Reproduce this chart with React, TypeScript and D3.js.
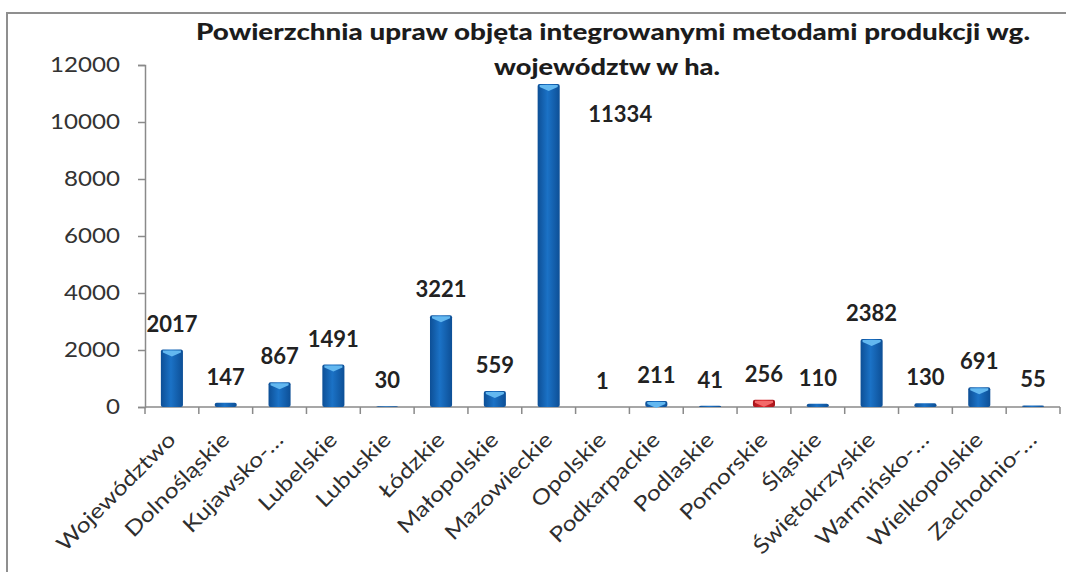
import React, { useEffect, useRef } from 'react';
import * as d3 from 'd3';

// województwa (etykiety jak na osi, ucięte przez Excela)
const categories = [
  'Województwo', 'Dolnośląskie', 'Kujawsko-…', 'Lubelskie', 'Lubuskie',
  'Łódzkie', 'Małopolskie', 'Mazowieckie', 'Opolskie', 'Podkarpackie',
  'Podlaskie', 'Pomorskie', 'Śląskie', 'Świętokrzyskie', 'Warmińsko-…',
  'Wielkopolskie', 'Zachodnio-…'
];
// powierzchnia w ha
const values = [2017, 147, 867, 1491, 30, 3221, 559, 11334, 1, 211, 41, 256, 110, 2382, 130, 691, 55];
const highlighted = ['Pomorskie'];
const yTicks = [0, 2000, 4000, 6000, 8000, 10000, 12000];
const titleLines = [
  'Powierzchnia upraw objęta integrowanymi metodami produkcji wg.',
  'województw w ha.'
];

const W = 1066, H = 572;
const FONT = 'Lato, "Open Sans", sans-serif';

export default function App() {
  const ref = useRef<SVGSVGElement>(null);

  useEffect(() => {
    const svg = d3.select(ref.current);
    svg.selectAll('*').remove();

    const data = categories.map((c, i) => ({ name: c, value: values[i] }));

    const x = d3.scaleBand<string>().domain(categories).range([145, 1060]).padding(0);
    const y = d3.scaleLinear().domain([0, 12000]).range([407, 65]);
    const step = x.step();
    const barW = step * 0.41;

    // gradienty słupków
    const defs = svg.append('defs');
    const grad = (id: string, edge: string, mid: string) => {
      const g = defs.append('linearGradient').attr('id', id).attr('x1', 0).attr('x2', 1).attr('y1', 0).attr('y2', 0);
      g.append('stop').attr('offset', '0%').attr('stop-color', edge);
      g.append('stop').attr('offset', '45%').attr('stop-color', mid);
      g.append('stop').attr('offset', '100%').attr('stop-color', edge);
    };
    grad('blueBar', '#0d4f96', '#1b72c6');
    grad('redBar', '#a3131a', '#e0262b');

    // ramka
    svg.append('rect')
      .attr('x', 7).attr('y', 13)
      .attr('width', W + 10).attr('height', H + 10)
      .attr('fill', '#fff')
      .attr('stroke', '#8f8f8f')
      .attr('stroke-width', 2);

    // tytuł
    svg.append('g').selectAll('text')
      .data(titleLines)
      .enter()
      .append('text')
      .attr('x', (d, i) => (i === 0 ? 613 : 607))
      .attr('y', (d, i) => 40 + i * 35)
      .attr('text-anchor', 'middle')
      .attr('textLength', (d, i) => (i === 0 ? 834 : 226))
      .attr('lengthAdjust', 'spacingAndGlyphs')
      .style('font-family', FONT)
      .style('font-weight', '900')
      .style('font-size', '23px')
      .style('fill', '#1c1c1c')
      .text(d => d);

    // oś Y
    const yAxis = svg.append('g')
      .attr('transform', 'translate(145,0)')
      .call(d3.axisLeft(y).tickValues(yTicks).tickSize(7).tickFormat(d3.format('d')));
    yAxis.select('.domain').attr('stroke', '#8a8a8a').attr('stroke-width', 1.5);
    yAxis.selectAll('.tick line').attr('stroke', '#8a8a8a').attr('stroke-width', 1.5);
    yAxis.selectAll('.tick text')
      .attr('x', -25 / 1.15)
      .attr('transform', 'scale(1.15,1)')
      .style('font-family', FONT)
      .style('font-size', '21px')
      .style('fill', '#333');

    // oś X z kreskami na granicach kategorii
    const xg = svg.append('g');
    xg.append('line')
      .attr('x1', 145).attr('x2', 1060)
      .attr('y1', 407).attr('y2', 407)
      .attr('stroke', '#8a8a8a').attr('stroke-width', 1.5);
    const bounds = categories.map(c => x(c) as number).concat([x.range()[1]]);
    xg.selectAll('.xtick')
      .data(bounds)
      .enter()
      .append('line')
      .attr('class', 'xtick')
      .attr('x1', d => d).attr('x2', d => d)
      .attr('y1', 407).attr('y2', 414)
      .attr('stroke', '#8a8a8a').attr('stroke-width', 1.5);

    xg.selectAll('.xlabel')
      .data(categories)
      .enter()
      .append('text')
      .attr('class', 'xlabel')
      .attr('transform', d => 'translate(' + ((x(d) as number) + step / 2 + 5) + ',441) rotate(-45) scale(1.18,1)')
      .attr('text-anchor', 'end')
      .style('font-family', FONT)
      .style('font-size', '21px')
      .style('fill', '#2e2e2e')
      .text(d => d);

    // słupki
    const bars = svg.append('g').selectAll('.bar')
      .data(data)
      .enter()
      .append('g')
      .attr('class', 'bar');

    bars.append('rect')
      .attr('x', d => (x(d.name) as number) + (step - barW) / 2)
      .attr('y', d => y(d.value))
      .attr('width', barW)
      .attr('height', d => y(0) - y(d.value))
      .attr('rx', 2)
      .attr('fill', d => (highlighted.includes(d.name) ? 'url(#redBar)' : 'url(#blueBar)'));

    // jasna "czapka" na górze słupka
    bars.filter(d => y(0) - y(d.value) > 6)
      .append('path')
      .attr('d', d => {
        const x0 = (x(d.name) as number) + (step - barW) / 2;
        const t = y(d.value);
        return 'M' + (x0 + 2) + ',' + (t + 1) +
          'L' + (x0 + barW - 2) + ',' + (t + 1) +
          'L' + (x0 + barW - 2) + ',' + (t + 3) +
          'L' + (x0 + barW / 2) + ',' + (t + 7) +
          'L' + (x0 + 2) + ',' + (t + 3) + 'Z';
      })
      .attr('fill', d => (highlighted.includes(d.name) ? '#f36a6a' : '#63b8f0'));

    // etykiety wartości
    const maxV = d3.max(values) as number;
    svg.append('g').selectAll('.val')
      .data(data)
      .enter()
      .append('text')
      .attr('class', 'val')
      .attr('x', d => (x(d.name) as number) + step / 2 + (d.value === maxV ? step * 1.33 : 0))
      .attr('y', d => y(d.value) + (d.value === maxV ? 38 : -18))
      .attr('text-anchor', 'middle')
      .style('font-family', FONT)
      .style('font-weight', 'bold')
      .style('font-size', '22px')
      .style('fill', '#222')
      .text(d => d.value);
  }, []);

  return (
    <svg ref={ref} width={W} height={H}
         style={{ position: 'absolute', left: 0, top: 0, background: '#fff' }} />
  );
}
